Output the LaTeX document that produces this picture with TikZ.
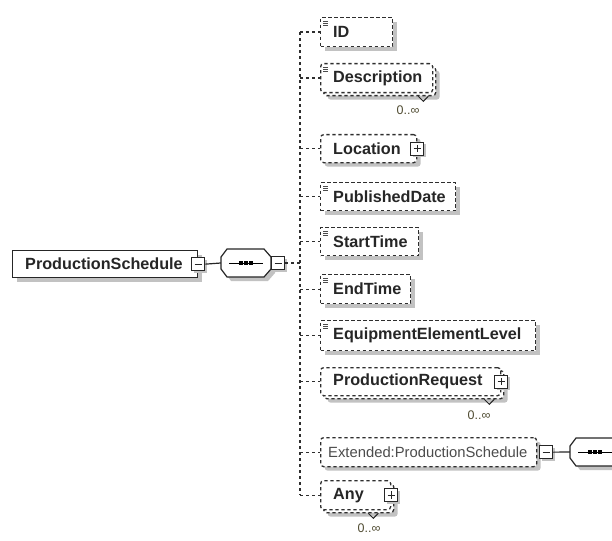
\documentclass[tikz,border=0pt]{standalone}
\usepackage{fontspec}
\setmainfont{Liberation Sans}
\usetikzlibrary{shadows}

\definecolor{multcol}{RGB}{80,76,50}

\tikzset{
  boxshadow/.style={drop shadow={shadow xshift=4pt,shadow yshift=-4pt,fill=black!24,opacity=1}},
  smallshadow/.style={drop shadow={shadow xshift=2pt,shadow yshift=-2pt,fill=black!24,opacity=1}},
  dashframe/.style={draw=black!82, line width=1.3pt, dash pattern=on 3.2pt off 2.8pt},
  frontelem/.style={dashframe, fill=white, anchor=north west, inner sep=0pt},
  elem/.style={frontelem, boxshadow},
  rootelem/.style={draw=black!85, line width=1.3pt, fill=white, boxshadow, anchor=north west, inner sep=0pt},
  lbl/.style={anchor=west, inner sep=0pt, font=\bfseries\fontsize{16.2}{19}\selectfont, text=black!85},
  reflbl/.style={anchor=west, inner sep=0pt, font=\fontsize{14.8}{18}\selectfont, text=black!70},
  conn/.style={dashframe},
  link/.style={draw=black!85, line width=1.2pt},
  toggle/.style={draw=black!85, line width=1pt, fill=white, minimum size=13pt, inner sep=0pt, smallshadow},
  minusbox/.style={toggle, path picture={\draw[line width=1pt]
      ([xshift=2.8pt]path picture bounding box.west) -- ([xshift=-2.8pt]path picture bounding box.east);}},
  plusbox/.style={toggle, path picture={\draw[line width=1pt]
      ([xshift=2.8pt]path picture bounding box.west) -- ([xshift=-2.8pt]path picture bounding box.east)
      ([yshift=-2.8pt]path picture bounding box.north) -- ([yshift=2.8pt]path picture bounding box.south);}},
  seqbox/.style={minimum width=50pt, minimum height=29pt, inner sep=0pt},
  octagon/.pic={
    \fill[black!24] (-21,-2) -- (-15,-10) -- (22,-10) -- (29,-2) -- (29,10) -- (22,18) -- (-15,18) -- (-21,10) -- cycle;
    \draw[line width=1.2pt, draw=black!85, fill=white]
      (-25,-6) -- (-19,-14) -- (18,-14) -- (25,-6) -- (25,6) -- (18,14) -- (-19,14) -- (-25,6) -- cycle;
    \draw[line width=1pt] (-17,0) -- (17,0);
    \foreach \dx in {-5,0,5} \fill (\dx-1.6,-1.6) rectangle (\dx+1.6,1.6);
  },
  mult/.style={font=\fontsize{12.5}{14}\selectfont, text=multcol, inner sep=0pt},
  notch/.style={draw=black!85, line width=1pt},
  simpleicon/.pic={\draw[line width=0.7pt, black!70] (3,4.5) -- (8,4.5) (3,6.5) -- (8,6.5) (3,8.5) -- (8,8.5);}
}

\begin{document}
\begin{tikzpicture}[x=1pt,y=-1pt]
\clip (0,0) rectangle (612,540);

% root element and its sequence compositor
\node[rootelem, minimum width=185pt, minimum height=27pt] (root) at (12,250) {};
\node[lbl] (t-root) at ([xshift=13pt]root.west) {ProductionSchedule};
\node[minusbox] (root-m) at (root.east) {};
\node[seqbox] (seq) at (246,263) {};
\pic at (seq.center) {octagon};
\node[minusbox, anchor=west] (seq-m) at (seq.east) {};
\coordinate (spine) at (300,263);
\draw[link] (root-m.east) -- (seq.west);
\draw[conn] (seq-m.east) -- (spine);

% child elements
\node[elem, minimum width=72pt, minimum height=29pt] (b-id) at (320,17) {};
\node[lbl] (t-id) at ([xshift=13pt]b-id.west) {ID};
\pic at (b-id.north west) {simpleicon};

\node[elem, rounded corners=3pt, minimum width=112pt, minimum height=29pt] (b-desc-back) at (323,66) {};
\node[frontelem, rounded corners=3pt, minimum width=112pt, minimum height=29pt] (b-desc) at (320,63) {};
\node[lbl] (t-desc) at ([xshift=13pt]b-desc.west) {Description};
\pic at (b-desc.north west) {simpleicon};
\draw[notch] ([xshift=-18pt]b-desc-back.south east) -- ++(5,5) -- ++(5,-5);
\node[mult] (m-desc) at (408,110) {0..∞};

\node[elem, rounded corners=3pt, minimum width=96pt, minimum height=28pt] (b-loc) at (320,134) {};
\node[lbl] (t-loc) at ([xshift=13pt]b-loc.west) {Location};
\node[plusbox] (b-loc-p) at (b-loc.east) {};

\node[elem, minimum width=135pt, minimum height=28pt] (b-pub) at (320,182) {};
\node[lbl] (t-pub) at ([xshift=13pt]b-pub.west) {PublishedDate};
\pic at (b-pub.north west) {simpleicon};

\node[elem, minimum width=98pt, minimum height=28pt] (b-start) at (320,227) {};
\node[lbl] (t-start) at ([xshift=13pt]b-start.west) {StartTime};
\pic at (b-start.north west) {simpleicon};

\node[elem, minimum width=90pt, minimum height=29pt] (b-end) at (320,274) {};
\node[lbl] (t-end) at ([xshift=13pt]b-end.west) {EndTime};
\pic at (b-end.north west) {simpleicon};

\node[elem, minimum width=215pt, minimum height=30pt] (b-eel) at (320,320) {};
\node[lbl] (t-eel) at ([xshift=13pt]b-eel.west) {EquipmentElementLevel};
\pic at (b-eel.north west) {simpleicon};

\node[elem, rounded corners=3pt, minimum width=180pt, minimum height=28pt] (b-req-back) at (323,370) {};
\node[frontelem, rounded corners=3pt, minimum width=180pt, minimum height=28pt] (b-req) at (320,367) {};
\node[lbl] (t-req) at ([xshift=13pt]b-req.west) {ProductionRequest};
\node[plusbox] (b-req-p) at (b-req.east) {};
\draw[notch] ([xshift=-20pt]b-req-back.south east) -- ++(5,5) -- ++(5,-5);
\node[mult] (m-req) at (479,415) {0..∞};

\node[elem, rounded corners=3pt, minimum width=216pt, minimum height=29pt] (b-ext) at (320,437) {};
\node[reflbl] (t-ext) at ([xshift=8pt]b-ext.west) {Extended:ProductionSchedule};
\node[minusbox, anchor=west] (b-ext-m) at ([xshift=2pt]b-ext.east) {};
\node[seqbox] (ext-seq) at (595,452) {};
\pic at (ext-seq.center) {octagon};
\draw[link] (b-ext-m.east) -- (ext-seq.west);

\node[elem, rounded corners=3pt, minimum width=70pt, minimum height=29pt] (b-any-back) at (323,483) {};
\node[frontelem, rounded corners=3pt, minimum width=70pt, minimum height=29pt] (b-any) at (320,480) {};
\node[lbl] (t-any) at ([xshift=13pt]b-any.west) {Any};
\node[plusbox] (b-any-p) at (b-any.east) {};
\draw[notch] ([xshift=-26pt]b-any-back.south east) -- ++(5,5) -- ++(5,-5);
\node[mult] (m-any) at (369,528) {0..∞};

% connectors from the sequence spine to each child
\draw[conn] (spine |- b-id.west) -- (spine |- b-any.west);
\foreach \c in {b-id,b-desc,b-loc,b-pub,b-start,b-end,b-eel,b-req,b-ext,b-any}
  \draw[conn] (spine |- \c.west) -- (\c.west);
\end{tikzpicture}
\end{document}
